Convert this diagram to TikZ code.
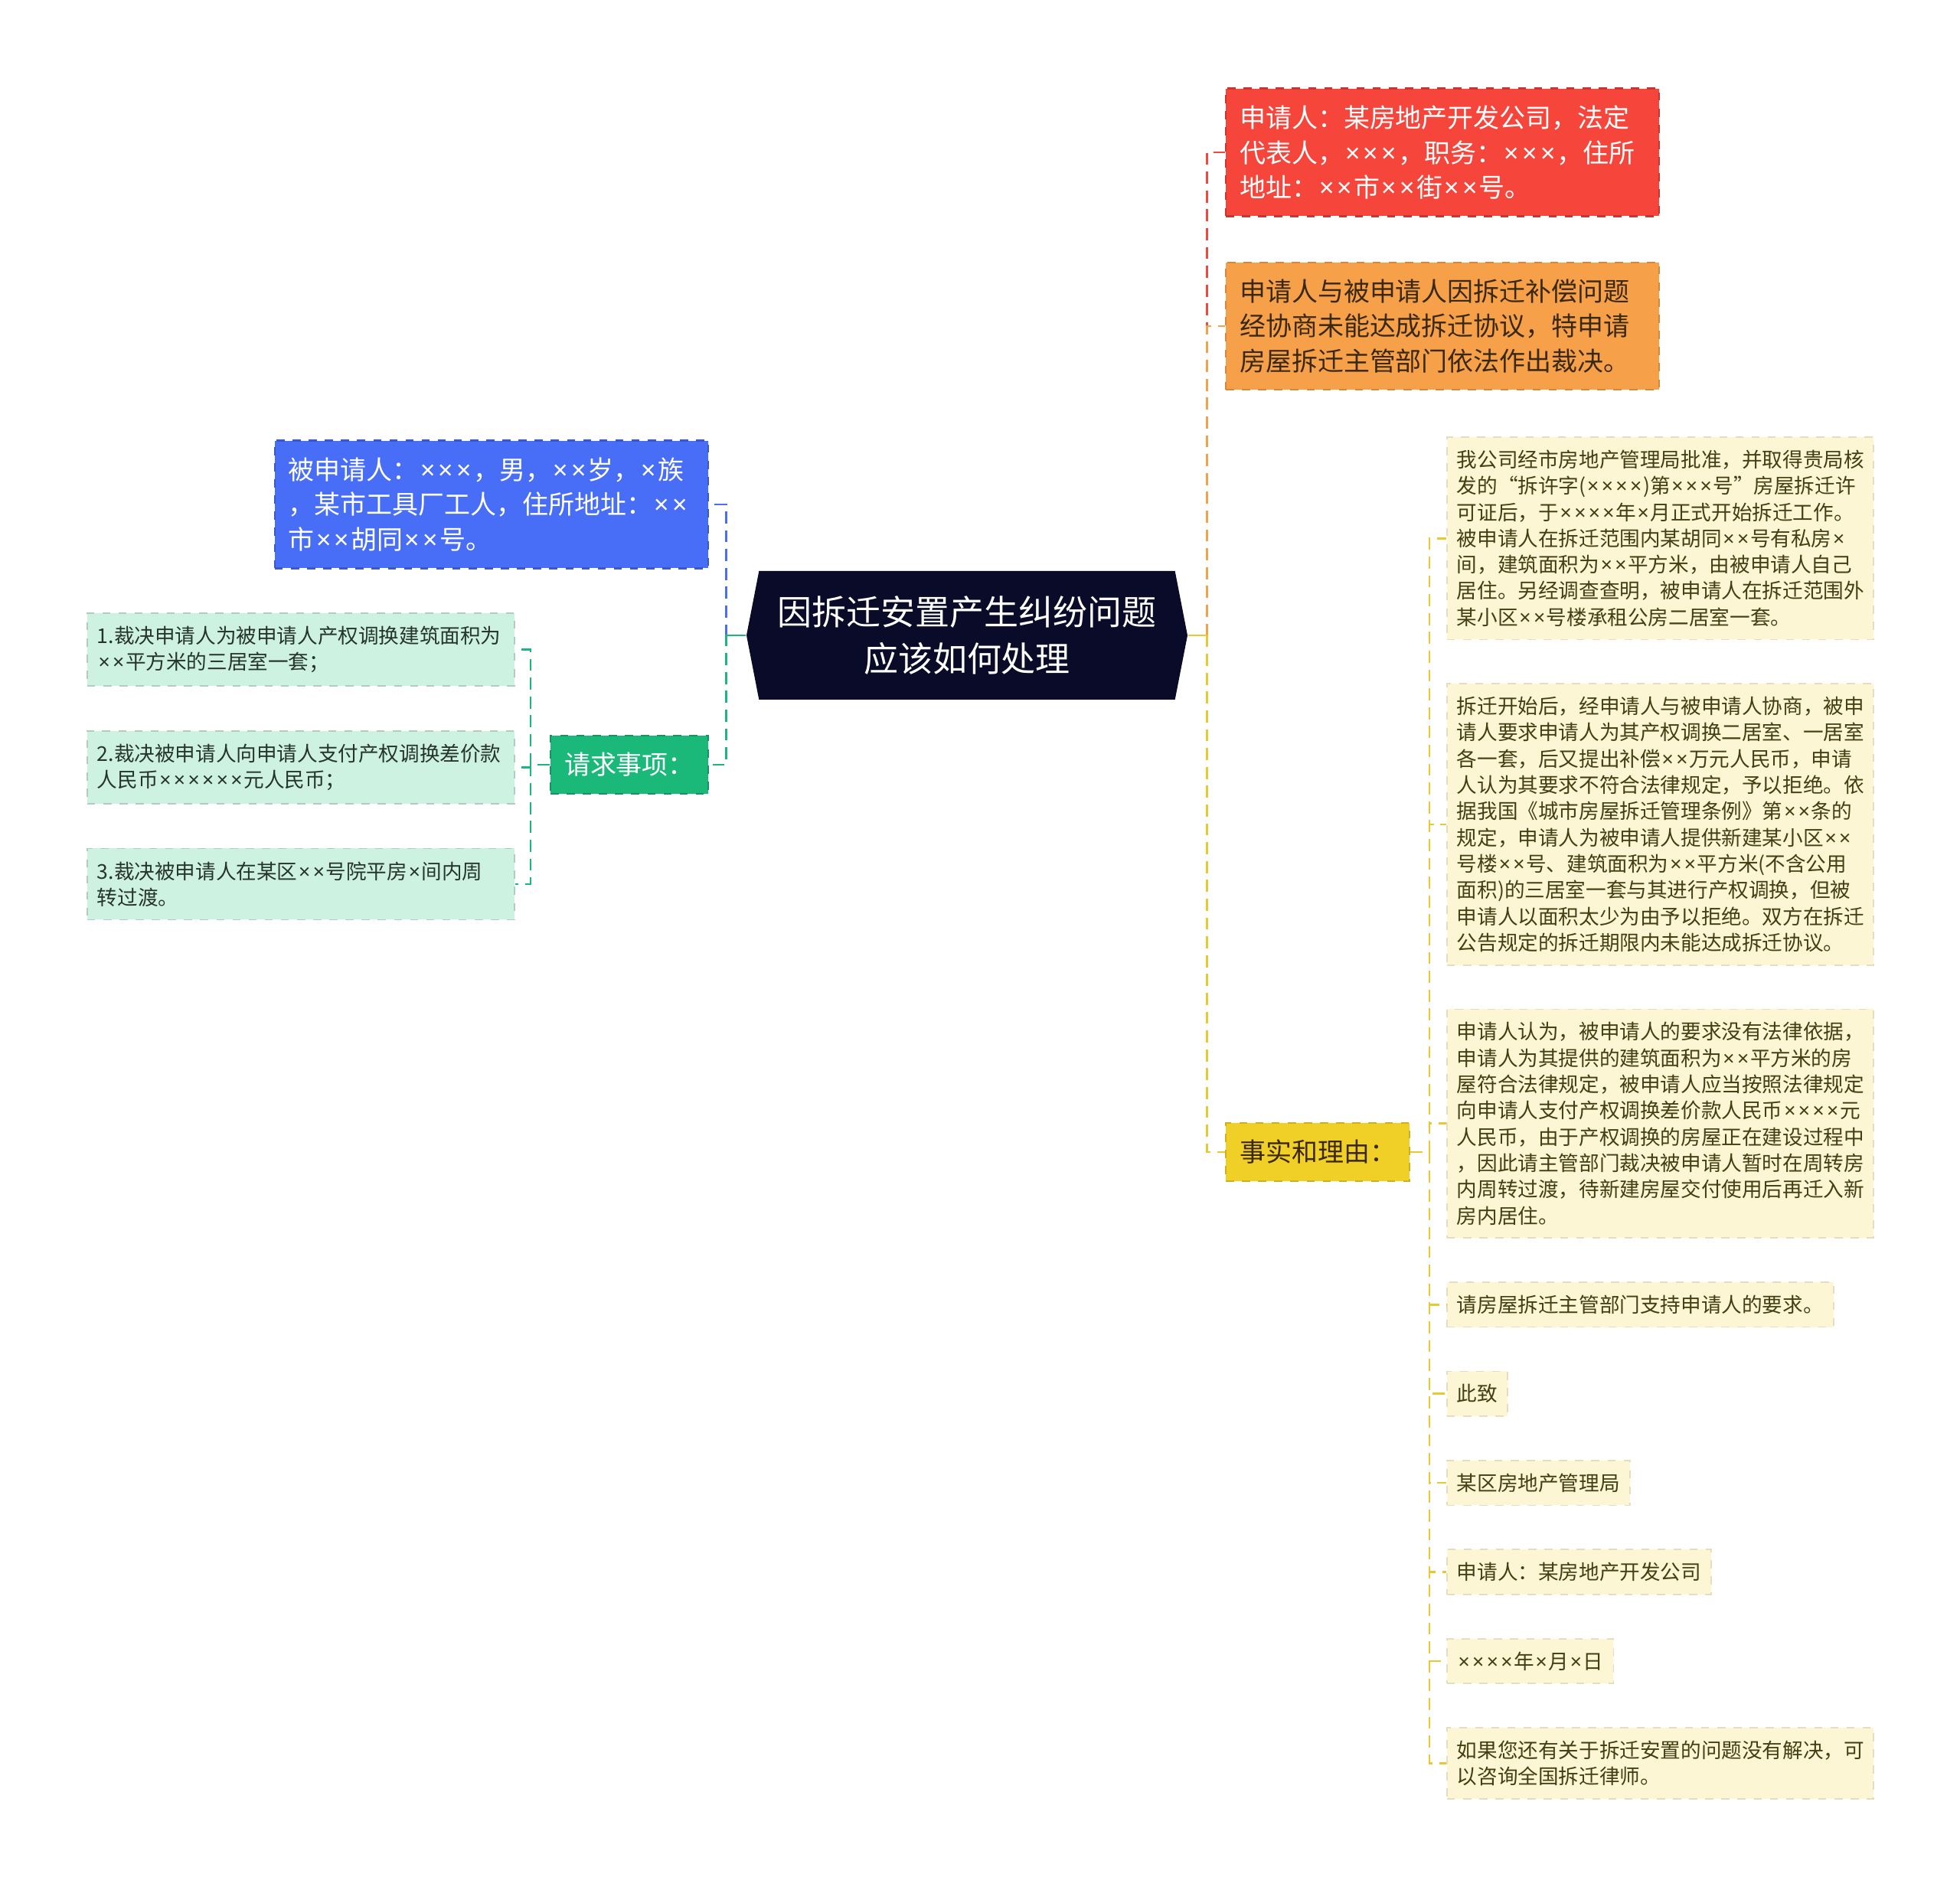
\documentclass[tikz,border=0pt]{standalone}
\usepackage{fontspec}
\usepackage{newunicodechar}
\setmainfont{Noto Sans CJK SC}
\newfontfamily\timesfont{Noto Sans}
\newunicodechar{×}{\leavevmode\hbox to 0.7em{\hss\timesfont\char"D7\hss}}
\usetikzlibrary{shapes.symbols, positioning, calc}
\definecolor{rootnavy}{RGB}{10,11,40}
\definecolor{respblue}{RGB}{72,110,247}
\definecolor{reqgreen}{RGB}{26,185,122}
\definecolor{itemmint}{RGB}{206,242,226}
\definecolor{itemtext}{RGB}{38,52,46}
\definecolor{appred}{RGB}{246,69,59}
\definecolor{causeorange}{RGB}{246,161,73}
\definecolor{causetext}{RGB}{58,40,16}
\definecolor{factyellow}{RGB}{240,207,38}
\definecolor{factline}{RGB}{233,200,50}
\definecolor{leafcream}{RGB}{253,246,212}
\definecolor{leaftext}{RGB}{68,62,18}

\begin{document}
\begin{tikzpicture}[
    rootblk/.style={signal, signal to=west and east, signal pointer angle=158,
                    fill=rootnavy, text=white, minimum width=5.76cm,
                    minimum height=1.68cm, align=center,
                    font=\fontsize{12.8}{17.1}\selectfont},
    mainblk/.style={rectangle, dashed, line width=0.6pt, inner xsep=0.18cm,
                    inner ysep=0.22cm, align=left,
                    font=\fontsize{9.67}{13}\selectfont},
    itemblk/.style={rectangle, dashed, line width=0.5pt, inner xsep=0.13cm,
                    inner ysep=0.17cm, align=left, text width=5.32cm,
                    fill=itemmint, draw=itemmint!85!black, text=itemtext,
                    font=\fontsize{7.57}{9.76}\selectfont},
    leafblk/.style={rectangle, dashed, line width=0.5pt, inner xsep=0.13cm,
                    inner ysep=0.17cm, align=left,
                    fill=leafcream, draw=leafcream!90!black, text=leaftext,
                    font=\fontsize{7.57}{9.76}\selectfont},
    lnk/.style={line width=0.8pt, dash pattern=on 4.5pt off 2.5pt}
  ]
    \useasboundingbox (0,0) rectangle (25.6,-24.69);

    \node[rootblk] (root) at (12.63,-8.30) {因拆迁安置产生纠纷问题\\应该如何处理};

    % left side
    \node[mainblk, fill=respblue, draw=respblue!80!black, text=white,
          text width=5.3cm, anchor=east] (resp) at (9.26,-6.59)
          {被申请人：×××，男，××岁，×族\\，某市工具厂工人，住所地址：××\\市××胡同××号。};
    \node[mainblk, fill=reqgreen, draw=reqgreen!80!black, text=white,
          anchor=east] (req) at (9.26,-9.99) {请求事项：};

    \node[itemblk, anchor=north west] (item1) at (1.13,-8.00)
          {1.裁决申请人为被申请人产权调换建筑面积为\\××平方米的三居室一套；};
    \node[itemblk, below=0.57cm of item1.south west, anchor=north west] (item2)
          {2.裁决被申请人向申请人支付产权调换差价款\\人民币××××××元人民币；};
    \node[itemblk, below=0.57cm of item2.south west, anchor=north west] (item3)
          {3.裁决被申请人在某区××号院平房×间内周\\转过渡。};

    % right side
    \node[mainblk, fill=appred, draw=appred!80!black, text=white,
          text width=5.3cm, anchor=west] (app) at (16.00,-1.99)
          {申请人：某房地产开发公司，法定\\代表人，×××，职务：×××，住所\\地址：××市××街××号。};
    \node[mainblk, fill=causeorange, draw=causeorange!85!black, text=causetext,
          text width=5.3cm, anchor=west] (cause) at (16.00,-4.26)
          {申请人与被申请人因拆迁补偿问题\\经协商未能达成拆迁协议，特申请\\房屋拆迁主管部门依法作出裁决。};
    \node[mainblk, fill=factyellow, draw=factyellow!85!black, text=causetext,
          anchor=west] (facts) at (16.00,-15.05) {事实和理由：};

    \node[leafblk, text width=5.31cm, anchor=north west] (fact1) at (18.89,-5.70)
          {我公司经市房地产管理局批准，并取得贵局核\\发的“拆许字(××××)第×××号”房屋拆迁许\\可证后，于××××年×月正式开始拆迁工作。\\被申请人在拆迁范围内某胡同××号有私房×\\间，建筑面积为××平方米，由被申请人自己\\居住。另经调查查明，被申请人在拆迁范围外\\某小区××号楼承租公房二居室一套。};
    \node[leafblk, text width=5.31cm, below=0.56cm of fact1.south west, anchor=north west] (fact2)
          {拆迁开始后，经申请人与被申请人协商，被申\\请人要求申请人为其产权调换二居室、一居室\\各一套，后又提出补偿××万元人民币，申请\\人认为其要求不符合法律规定，予以拒绝。依\\据我国《城市房屋拆迁管理条例》第××条的\\规定，申请人为被申请人提供新建某小区××\\号楼××号、建筑面积为××平方米(不含公用\\面积)的三居室一套与其进行产权调换，但被\\申请人以面积太少为由予以拒绝。双方在拆迁\\公告规定的拆迁期限内未能达成拆迁协议。};
    \node[leafblk, text width=5.31cm, below=0.56cm of fact2.south west, anchor=north west] (fact3)
          {申请人认为，被申请人的要求没有法律依据，\\申请人为其提供的建筑面积为××平方米的房\\屋符合法律规定，被申请人应当按照法律规定\\向申请人支付产权调换差价款人民币××××元\\人民币，由于产权调换的房屋正在建设过程中\\，因此请主管部门裁决被申请人暂时在周转房\\内周转过渡，待新建房屋交付使用后再迁入新\\房内居住。};
    \node[leafblk, below=0.56cm of fact3.south west, anchor=north west] (fact4)
          {请房屋拆迁主管部门支持申请人的要求。};
    \node[leafblk, below=0.56cm of fact4.south west, anchor=north west] (fact5) {此致};
    \node[leafblk, below=0.56cm of fact5.south west, anchor=north west] (fact6) {某区房地产管理局};
    \node[leafblk, below=0.56cm of fact6.south west, anchor=north west] (fact7) {申请人：某房地产开发公司};
    \node[leafblk, below=0.56cm of fact7.south west, anchor=north west] (fact8) {××××年×月×日};
    \node[leafblk, text width=5.31cm, below=0.56cm of fact8.south west, anchor=north west] (fact9)
          {如果您还有关于拆迁安置的问题没有解决，可\\以咨询全国拆迁律师。};

    % connectors
    \draw[lnk, respblue] (root.west) -- ++(-0.26,0) |- (resp.east);
    \draw[lnk, reqgreen] (root.west) -- ++(-0.26,0) |- (req.east);
    \draw[reqgreen, line width=0.8pt] (root.west) -- ++(-0.26,0);
    \foreach \i in {1,2,3}
      \draw[lnk, reqgreen] (req.west) -- ++(-0.25,0) |- (item\i.east);

    \draw[lnk, appred] (root.east) -- ++(0.25,0) |- (app.west);
    \draw[lnk, causeorange] (root.east) -- ++(0.25,0) |- (cause.west);
    \draw[lnk, factline] (root.east) -- ++(0.25,0) |- (facts.west);
    \draw[factline, line width=0.8pt] (root.east) -- ++(0.25,0);
    \foreach \i in {1,...,9}
      \draw[lnk, factline] (facts.east) -- ++(0.25,0) |- (fact\i.west);
  \end{tikzpicture}
\end{document}
